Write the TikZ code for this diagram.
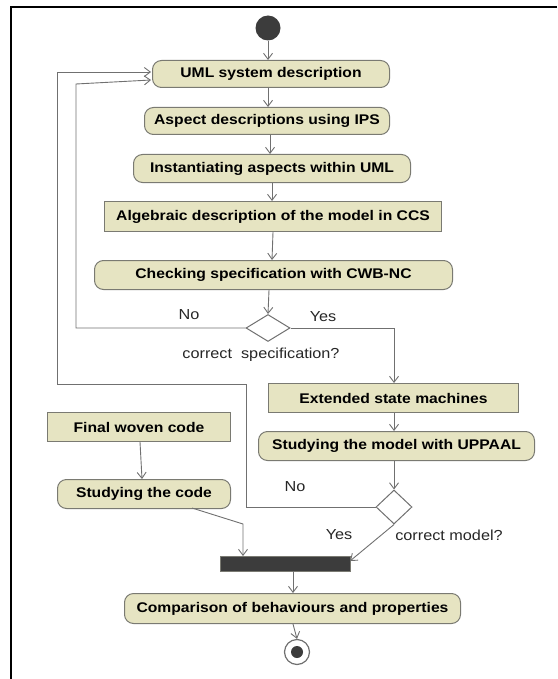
\documentclass[tikz,border=0pt]{standalone}
\usepackage{fontspec}
\setmainfont{Liberation Sans}[FakeStretch=1.12]
\usetikzlibrary{arrows.meta,shapes.geometric,calc}
\definecolor{actfill}{HTML}{E6E4C2}
\definecolor{actline}{HTML}{7A7A72}
\definecolor{flowline}{HTML}{707070}
\definecolor{bardark}{HTML}{3C3C3C}
\tikzset{
  px/.style={x=1pt,y=-1pt},
  action/.style={draw=actline,fill=actfill,line width=1pt,rounded corners=9pt,
    font=\bfseries\fontsize{14}{15}\selectfont,inner sep=0pt,anchor=north west},
  plainbox/.style={draw=actline,fill=actfill,line width=1pt,
    font=\bfseries\fontsize{14}{15}\selectfont,inner sep=0pt,anchor=north west},
  flow/.style={draw=flowline,line width=0.9pt,-{Straight Barb[length=6pt,width=9pt,line width=0.9pt]}},
  decision/.style={draw=flowline,fill=white,line width=1pt,diamond,inner sep=0pt},
  lbl/.style={font=\fontsize{14.5}{15}\selectfont,inner sep=0pt,text=black!85}
}
\begin{document}
\begin{tikzpicture}[px]
\useasboundingbox (0,0) rectangle (557,679);
% outer frame
\draw[line width=2.6pt,line join=miter] (557,7) -- (11,7) -- (11,679);

% initial node
\node[circle,fill=bardark,minimum size=25pt,inner sep=0pt] (start) at (268,28) {};

% activities (positioned by their top-left corners)
\node[action,minimum width=237pt,minimum height=27pt] (uml) at (152,60) {UML system description};
\node[action,minimum width=245pt,minimum height=27pt] (asp) at (144,107) {Aspect descriptions using IPS};
\node[action,minimum width=277pt,minimum height=28pt] (inst) at (133,154) {Instantiating aspects within UML};
\node[plainbox,minimum width=337pt,minimum height=30pt] (ccs) at (104,201) {Algebraic description of the model in CCS};
\node[action,minimum width=358pt,minimum height=29pt] (cwb) at (94,260) {Checking specification with CWB-NC};
\node[decision,minimum width=44pt,minimum height=27pt] (d1) at (268,328) {};
\node[plainbox,minimum width=250pt,minimum height=29pt] (esm) at (268,383) {Extended state machines};
\node[action,minimum width=276pt,minimum height=29pt] (upp) at (258,431) {Studying the model with UPPAAL};
\node[plainbox,minimum width=183pt,minimum height=29pt] (fwc) at (47,412) {Final woven code};
\node[action,minimum width=173pt,minimum height=29pt] (sc) at (57,479) {Studying the code};
\node[decision,minimum width=36pt,minimum height=34pt] (d2) at (394,507) {};
\node[fill=bardark,draw=actline,line width=0.6pt,minimum width=130pt,minimum height=15pt,inner sep=0pt] (join) at (285,563.5) {};
\node[action,minimum width=336pt,minimum height=30pt] (cmp) at (124,593) {Comparison of behaviours and properties};
\node[circle,draw=flowline,line width=1.2pt,fill=white,minimum size=25pt,inner sep=0pt] (fin) at (297,652) {};
\node[circle,fill=bardark,minimum size=12pt,inner sep=0pt] (finin) at (fin.center) {};

% guards and decision labels
\node[lbl] (no1) at (189,315) {No};
\node[lbl] (yes1) at (323,317) {Yes};
\node[lbl] (q1) at (261,355) {correct\ \ specification?};
\node[lbl] (no2) at (295,487) {No};
\node[lbl] (yes2) at (339,535) {Yes};
\node[lbl] (q2) at (449,535) {correct model?};

% bends and entry points of the connectors
\coordinate (noA) at (76,328);
\coordinate (noB) at (76,84);
\coordinate (umlInA) at (151,80);
\coordinate (noC) at (246,507);
\coordinate (noD) at (246,384);
\coordinate (noE) at (57,384);
\coordinate (noF) at (57,72);
\coordinate (umlInB) at (151,72);
\coordinate (yesA) at (394,328);
\coordinate (scOut) at (192,508);
\coordinate (scBend) at (243,524);
\coordinate (joinInL) at (243,556);
\coordinate (joinInR) at (350,561);
\coordinate (joinOut) at (293,571);

% main flow
\draw[flow] (start) -- (start |- uml.north);
\draw[flow] (uml.south -| 268,0) -- (asp.north -| 268,0);
\draw[flow] (asp.south -| 270,0) -- (inst.north -| 270,0);
\draw[flow] (inst.south -| 272,0) -- (ccs.north -| 272,0);
\draw[flow] (ccs.south -| 273,0) -- (cwb.north -| 272,0);
\draw[flow] (cwb.south -| 269,0) -- (d1.north);

% correct specification: yes / no
\draw[flow] (d1.east) -- (yesA) -- (esm.north -| yesA);
\draw[flow] (d1.west) -- (noA) -- (noB) -- (umlInA);

% model checking branch
\draw[flow] (esm.south -| 394,0) -- (upp.north -| 394,0);
\draw[flow] (upp.south -| 394,0) -- (d2.north);
\draw[flow] (d2.west) -- (noC) -- (noD) -- (noE) -- (noF) -- (umlInB);
\draw[flow] (d2.south) -- (joinInR);

% code branch
\draw[flow] (fwc.south -| 140,0) -- (sc.north -| 142,0);
\draw[flow] (scOut) -- (scBend) -- (joinInL);

% join and final
\draw[flow] (joinOut) -- (cmp.north -| joinOut);
\draw[flow] (cmp.south -| 293,0) -- (fin.north);
\end{tikzpicture}
\end{document}
